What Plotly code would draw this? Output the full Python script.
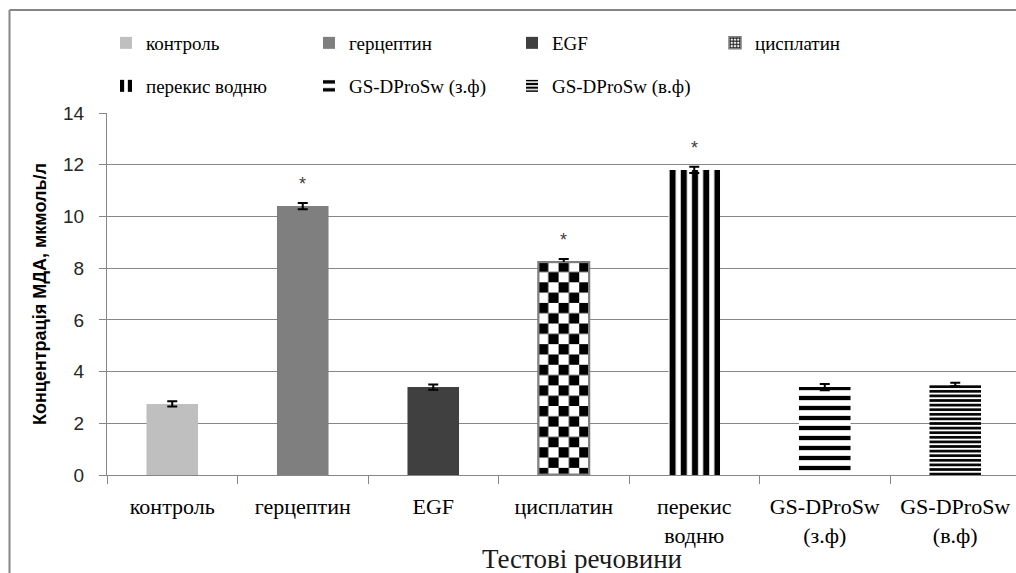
import base64
import plotly.graph_objects as go

# ---------------- data ----------------
categories = ["контроль", "герцептин", "EGF", "цисплатин", "перекис водню",
              "GS-DProSw (з.ф)", "GS-DProSw (в.ф)"]
tick_labels = ["контроль", "герцептин", "EGF", "цисплатин", "перекис<br>водню",
               "GS-DProSw<br>(з.ф)", "GS-DProSw<br>(в.ф)"]
values = [2.75, 10.4, 3.4, 8.25, 11.8, 3.4, 3.5]
errors = [0.1, 0.12, 0.1, 0.1, 0.12, 0.12, 0.07]
significance = ["", "*", "", "*", "*", "", ""]
legend_row = [1, 1, 1, 1, 2, 2, 2]
y_ticks = [0, 2, 4, 6, 8, 10, 12, 14]
y_title = "Концентрація МДА, мкмоль/л"
x_title = "Тестові речовини"

# ---------------- layout constants ----------------
W, H = 1016, 573
ML, MR, MT, MB = 107, 0, 113, 98
CAT_PX = 130.5
PLOT_W = W - ML - MR
PLOT_H = H - MT - MB
X_RANGE = [-0.5, -0.5 + PLOT_W / CAT_PX]
Y_RANGE = [0, 14]
BAR_W = 0.395
GRID = "#868686"
SERIF = "Liberation Serif"
SANS = "Liberation Sans"


def px_x(px):
    return (px - ML) / PLOT_W


def px_y(py):
    return (H - MB - py) / PLOT_H


def pat(shape, size, solidity, fg="black"):
    return dict(shape=shape, fgcolor=fg, bgcolor="white", fgopacity=1,
                size=size, solidity=solidity, fillmode="replace")


styles = [
    dict(color="#BFBFBF"),
    dict(color="#7F7F7F"),
    dict(color="#404040"),
    dict(color="white", line=dict(color="#7F7F7F", width=1.5), pattern=pat("+", 4, 0.6, "#202020")),
    dict(color="white", pattern=pat("|", 11.2, 0.54)),
    dict(color="white", pattern=pat("-", 10, 0.43)),
    dict(color="white", pattern=pat("-", 4.6, 0.58)),
]

fig = go.Figure()
for i, cat in enumerate(categories):
    st = dict(styles[i])
    st.setdefault("line", dict(width=0))
    fig.add_trace(go.Bar(
        x=[tick_labels[i]], y=[values[i]], name=cat, width=[BAR_W],
        marker=st,
        error_y=dict(type="data", array=[errors[i]], color="black", thickness=2, width=5),
        legend="legend" if legend_row[i] == 1 else "legend2",
        hoverinfo="skip",
    ))

# checkerboard texture for the cisplatin bar (placed from its data value)
idx = categories.index("цисплатин")
bw_px = BAR_W * CAT_PX
bh_px = values[idx] * PLOT_H / (Y_RANGE[1] - Y_RANGE[0])
sq = bw_px / 5
svg = (
    f"<svg xmlns='http://www.w3.org/2000/svg' width='{bw_px:.2f}' height='{bh_px:.2f}' "
    f"viewBox='0 0 {bw_px:.2f} {bh_px:.2f}' preserveAspectRatio='none'>"
    f"<defs><pattern id='c' width='{2*sq:.3f}' height='{2*sq:.3f}' patternUnits='userSpaceOnUse'>"
    f"<rect width='{2*sq:.3f}' height='{2*sq:.3f}' fill='#ffffff'/>"
    f"<rect width='{sq:.3f}' height='{sq:.3f}' fill='#000000'/>"
    f"<rect x='{sq:.3f}' y='{sq:.3f}' width='{sq:.3f}' height='{sq:.3f}' fill='#000000'/>"
    f"</pattern></defs>"
    f"<rect x='0.75' y='0.75' width='{bw_px-1.5:.2f}' height='{bh_px-1.5:.2f}' fill='url(#c)' "
    f"stroke='#7f7f7f' stroke-width='1.5'/></svg>"
)
src = "data:image/svg+xml;base64," + base64.b64encode(svg.encode("utf-8")).decode("ascii")
fig.add_layout_image(dict(
    source=src, xref="x", yref="y", x=idx - BAR_W / 2, y=values[idx],
    sizex=BAR_W, sizey=values[idx], xanchor="left", yanchor="top",
    sizing="stretch", layer="above",
))

annotations = []
for i, s in enumerate(significance):
    if s:
        annotations.append(dict(
            x=i, y=values[i] + errors[i], xref="x", yref="y", text=s, showarrow=False,
            yanchor="middle", yshift=19,
            font=dict(family=SANS, size=18, color="#404040"),
        ))
annotations.append(dict(
    x=px_x(40), y=0.5, xref="paper", yref="paper", text=y_title, textangle=-90,
    showarrow=False, xanchor="center", yanchor="middle",
    font=dict(family=SANS, size=18, color="black", weight="bold"),
))
annotations.append(dict(
    x=px_x(582), y=px_y(559), xref="paper", yref="paper", text=x_title,
    showarrow=False, xanchor="center", yanchor="middle",
    font=dict(family=SERIF, size=27, color="#1a1a1a"),
))

shapes = [
    dict(type="line", xref="paper", yref="paper", x0=px_x(9.5), x1=px_x(9.5),
         y0=px_y(600), y1=px_y(10), line=dict(color=GRID, width=2)),
    dict(type="line", xref="paper", yref="paper", x0=px_x(9.5), x1=px_x(1100),
         y0=px_y(10), y1=px_y(10), line=dict(color=GRID, width=2)),
]

legend_font = dict(family=SERIF, size=19, color="black")


def legend_cfg(y):
    return dict(
        orientation="h", xanchor="left", yanchor="middle", x=px_x(106), y=y,
        font=legend_font, entrywidth=158, entrywidthmode="pixels",
        bgcolor="rgba(0,0,0,0)", traceorder="normal",
        itemclick=False, itemdoubleclick=False,
    )


fig.update_layout(
    width=W, height=H, autosize=False,
    font=dict(family=SERIF, size=19, color="black"),
    margin=dict(l=ML, r=MR, t=MT, b=MB, pad=0),
    paper_bgcolor="white", plot_bgcolor="white",
    barmode="overlay",
    showlegend=True,
    legend=legend_cfg(px_y(43)),
    legend2=legend_cfg(px_y(86)),
    xaxis=dict(
        type="category", categoryorder="array", categoryarray=tick_labels,
        range=X_RANGE, showgrid=False, zeroline=False,
        showline=True, linecolor=GRID, linewidth=1,
        ticks="outside", tickson="boundaries", ticklen=8, tickcolor=GRID,
        tickfont=dict(family=SERIF, size=22, color="black"),
        ticklabelstandoff=12,
    ),
    yaxis=dict(
        range=Y_RANGE, tickvals=y_ticks, ticktext=[str(v) for v in y_ticks],
        showgrid=True, gridcolor=GRID, gridwidth=1, zeroline=False,
        showline=True, linecolor=GRID, linewidth=1,
        ticks="outside", ticklen=7, tickcolor=GRID,
        tickfont=dict(family=SANS, size=19, color="#262626"),
        ticklabelstandoff=11,
    ),
    annotations=annotations,
    shapes=shapes,
)

fig.write_html("out.html", include_plotlyjs=True, full_html=True,
               config={"displayModeBar": False},
               post_script="document.body.style.margin='0';document.body.style.overflow='hidden';")
